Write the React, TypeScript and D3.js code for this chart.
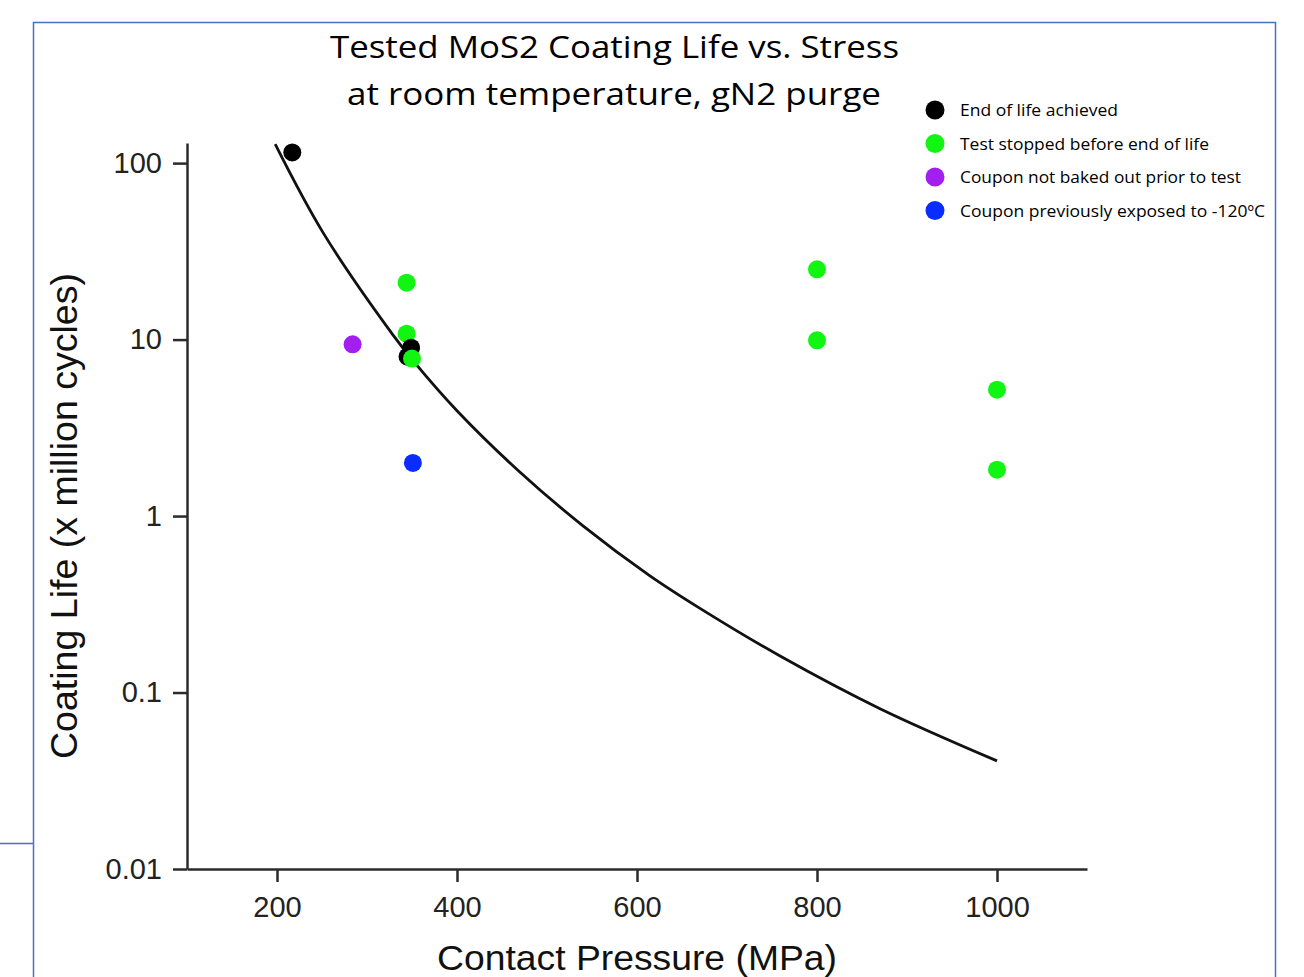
import React, { useEffect, useRef } from 'react';
import * as d3 from 'd3';

// tick values
const pressureTicks = [200, 400, 600, 800, 1000];
const lifeTicks = [0.01, 0.1, 1, 10, 100];
const lifeTickLabels = ['0.01', '0.1', '1', '10', '100'];

// fitted life curve
const curvePressure = [198, 251, 329, 353, 400, 467, 540, 614, 670, 759, 870, 1000];
const curveLife = [128, 40.5, 10.6, 7.4, 3.95, 1.83, 0.88, 0.46, 0.30, 0.161, 0.081, 0.041];

// test points: [pressure MPa, life x1e6 cycles]
const endOfLife = [[217, 115], [349, 9.0], [345, 8.0]];
const testStopped = [[344, 21], [344, 10.8], [350, 7.8], [800, 25], [800, 9.9], [1000, 5.2], [1000, 1.83]];
const notBaked = [[284, 9.4]];
const preExposed = [[351, 2.0]];

const legendLabels = [
  'End of life achieved',
  'Test stopped before end of life',
  'Coupon not baked out prior to test',
  'Coupon previously exposed to -120ºC',
];
const legendColors = ['#000000', '#12f512', '#a21ff0', '#0a2cff'];
const legendWidths = [158, 249, 281, 305];

const App = () => {
  const svgRef = useRef<SVGSVGElement>(null);

  useEffect(() => {
    const svg = d3.select(svgRef.current);
    svg.selectAll('*').remove();

    const x = d3.scaleLinear().domain([100, 1100]).range([187, 1087]);
    const y = d3.scaleLog().domain([0.01, 130]).range([869, 143]);

    // outer frame (picture border)
    svg.append('rect')
      .attr('x', 33.5).attr('y', 22.5)
      .attr('width', 1242).attr('height', 1000)
      .attr('fill', 'none')
      .attr('stroke', '#4472c4')
      .attr('stroke-width', 1.5);
    svg.append('line')
      .attr('x1', 0).attr('x2', 33).attr('y1', 843.5).attr('y2', 843.5)
      .attr('stroke', '#4472c4').attr('stroke-width', 1.5);

    // title
    const title = svg.append('g')
      .attr('font-family', '"Open Sans", "Noto Sans", sans-serif')
      .attr('font-size', 31)
      .attr('fill', '#000');
    title.append('text')
      .attr('x', 330).attr('y', 58)
      .attr('textLength', 569).attr('lengthAdjust', 'spacingAndGlyphs')
      .text('Tested MoS2 Coating Life vs. Stress');
    title.append('text')
      .attr('x', 347).attr('y', 105)
      .attr('textLength', 534).attr('lengthAdjust', 'spacingAndGlyphs')
      .text('at room temperature, gN2 purge');

    // axes
    const yAxis = svg.append('g')
      .attr('transform', 'translate(187,0)')
      .call(d3.axisLeft(y).tickValues(lifeTicks)
        .tickFormat((d, i) => lifeTickLabels[i])
        .tickSize(14).tickSizeOuter(0).tickPadding(11));
    const xAxis = svg.append('g')
      .attr('transform', 'translate(0,869)')
      .call(d3.axisBottom(x).tickValues(pressureTicks)
        .tickFormat(d3.format('d'))
        .tickSize(13).tickSizeOuter(0).tickPadding(14));

    [xAxis, yAxis].forEach(ax => {
      ax.select('.domain').attr('stroke', '#2b2b2b').attr('stroke-width', 2.5);
      ax.selectAll('.tick line').attr('stroke', '#2b2b2b').attr('stroke-width', 2.5);
      ax.selectAll('.tick text')
        .attr('font-family', '"Liberation Sans", Arial, sans-serif')
        .attr('font-size', 29)
        .attr('fill', '#222');
    });

    // axis titles
    svg.append('text')
      .attr('x', 637).attr('y', 970)
      .attr('text-anchor', 'middle')
      .attr('font-family', '"Liberation Sans", Arial, sans-serif')
      .attr('font-size', 35)
      .attr('fill', '#111')
      .attr('textLength', 400).attr('lengthAdjust', 'spacingAndGlyphs')
      .text('Contact Pressure (MPa)');
    svg.append('text')
      .attr('transform', 'translate(77,516) rotate(-90)')
      .attr('text-anchor', 'middle')
      .attr('font-family', '"Liberation Sans", Arial, sans-serif')
      .attr('font-size', 36)
      .attr('fill', '#111')
      .attr('textLength', 486).attr('lengthAdjust', 'spacingAndGlyphs')
      .text('Coating Life (x million cycles)');

    // curve
    const curve = curvePressure.map((p, i) => [p, curveLife[i]]);
    svg.append('path')
      .datum(curve)
      .attr('d', d3.line<number[]>()
        .x(d => x(d[0]))
        .y(d => y(d[1]))
        .curve(d3.curveCatmullRom.alpha(0.5)))
      .attr('fill', 'none')
      .attr('stroke', '#111')
      .attr('stroke-width', 2.8);

    // points, in the overlap order seen in the picture
    const drawOrder: [number[][], string][] = [
      [testStopped.slice(0, 2), legendColors[1]],
      [endOfLife, legendColors[0]],
      [testStopped.slice(2), legendColors[1]],
      [notBaked, legendColors[2]],
      [preExposed, legendColors[3]],
    ];
    drawOrder.forEach(([pts, color]) => {
      svg.append('g').selectAll('circle')
        .data(pts)
        .enter()
        .append('circle')
        .attr('cx', d => x(d[0]))
        .attr('cy', d => y(d[1]))
        .attr('r', 9)
        .attr('fill', color);
    });

    // legend
    const legend = svg.append('g');
    legendLabels.forEach((label, i) => {
      const cy = 110 + i * 33.5;
      legend.append('circle')
        .attr('cx', 935).attr('cy', cy).attr('r', 9.5)
        .attr('fill', legendColors[i]);
      legend.append('text')
        .attr('x', 960).attr('y', cy + 6)
        .attr('font-family', '"Open Sans", "Noto Sans", sans-serif')
        .attr('font-size', 16.5)
        .attr('fill', '#000')
        .attr('textLength', legendWidths[i])
        .attr('lengthAdjust', 'spacingAndGlyphs')
        .text(label);
    });
  }, []);

  return (
    <svg
      ref={svgRef}
      width={1304}
      height={977}
      style={{ position: 'absolute', left: 0, top: 0, background: '#fff' }}
    />
  );
};

export default App;
